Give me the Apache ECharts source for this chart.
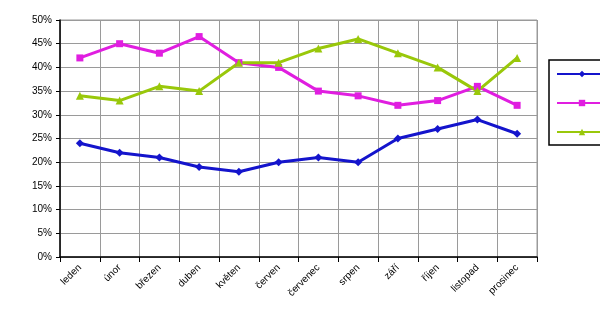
<!DOCTYPE html>
<html>
<head>
<meta charset="utf-8">
<script src="https://cdn.jsdelivr.net/npm/echarts@6/dist/echarts.min.js"></script>
<style>
  html, body { margin: 0; padding: 0; background: #ffffff; }
  #chart { width: 600px; height: 323px; }
</style>
</head>
<body>
<div id="chart"></div>
<script>
// Months of the year
const months = ['leden', 'únor', 'březen', 'duben', 'květen', 'červen',
                'červenec', 'srpen', 'září', 'říjen', 'listopad', 'prosinec'];

// Monthly shares in percent
const rada1 = [24, 22, 21, 19, 18, 20, 21, 20, 25, 27, 29, 26];
const rada2 = [42, 45, 43, 46.5, 41, 40, 35, 34, 32, 33, 36, 32];
const rada3 = [34, 33, 36, 35, 41, 41, 44, 46, 43, 40, 35, 42];

const seriesNames = ['Řada1', 'Řada2', 'Řada3'];
const yTicks = { min: 0, max: 50, step: 5 };

const chart = echarts.init(document.getElementById('chart'), null, { renderer: 'canvas' });

const labelFont = { fontFamily: 'Liberation Sans', fontSize: 10, color: '#000000' };

function lineSeries(name, data, color, symbol, size) {
  return {
    name: name,
    type: 'line',
    data: data,
    symbol: symbol,
    symbolSize: size,
    lineStyle: { color: color, width: 3 },
    itemStyle: { color: color },
    animation: false
  };
}

chart.setOption({
  backgroundColor: '#ffffff',
  animation: false,
  grid: {
    left: 60, right: 63, top: 20, bottom: 66,
    show: true, borderColor: '#9a9a9a', borderWidth: 1
  },
  legend: {
    orient: 'vertical',
    left: 549, top: 60,
    padding: [9, 40, 8, 7],
    itemWidth: 50, itemHeight: 8, itemGap: 19,
    borderColor: '#000000', borderWidth: 1.5,
    textStyle: labelFont,
    data: seriesNames
  },
  xAxis: {
    type: 'category',
    data: months,
    boundaryGap: true,
    axisLine: { lineStyle: { color: '#000000', width: 1.5 } },
    axisTick: { show: true, length: 5, lineStyle: { color: '#000000' } },
    splitLine: { show: true, lineStyle: { color: '#9a9a9a', width: 1 } },
    axisLabel: Object.assign({ rotate: 45, interval: 0, margin: 9 }, labelFont)
  },
  yAxis: {
    type: 'value',
    min: yTicks.min, max: yTicks.max, interval: yTicks.step,
    axisLine: { show: true, lineStyle: { color: '#000000', width: 1.5 } },
    axisTick: { show: true, length: 4, lineStyle: { color: '#000000' } },
    splitLine: { show: true, lineStyle: { color: '#9a9a9a', width: 1 } },
    axisLabel: Object.assign({ formatter: '{value}%', margin: 8 }, labelFont)
  },
  series: [
    lineSeries(seriesNames[0], rada1, '#1414cc', 'diamond', 8),
    lineSeries(seriesNames[1], rada2, '#e01ee0', 'rect', 7),
    lineSeries(seriesNames[2], rada3, '#99c80a', 'triangle', 8)
  ]
});
</script>
</body>
</html>
